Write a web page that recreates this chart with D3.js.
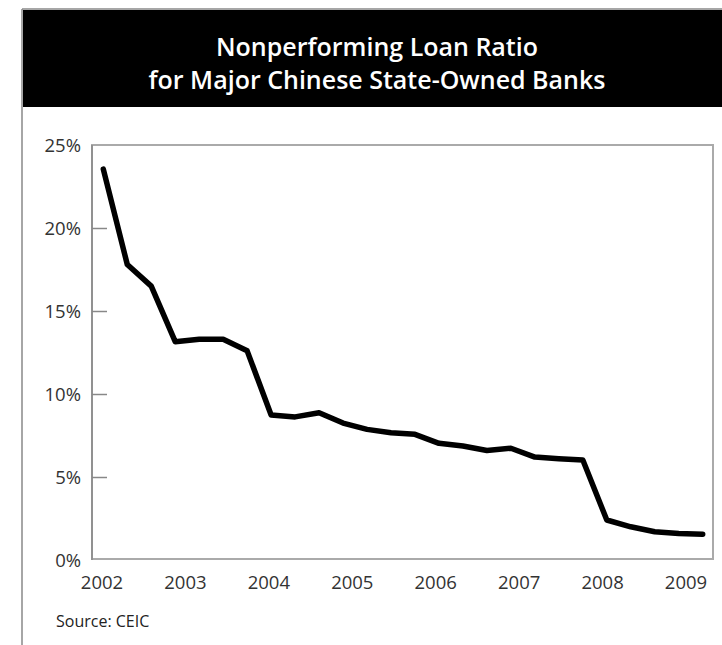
<!DOCTYPE html>
<html>
<head>
<meta charset="utf-8">
<script src="https://cdn.jsdelivr.net/npm/d3@7"></script>
<style>
  body { margin: 0; background: #fff; }
  svg { display: block; }
  text { font-family: "Open Sans", "Noto Sans", sans-serif; }
</style>
</head>
<body>
<div id="chart"></div>
<script>
// NPL ratio readings, evenly spaced periods
const nplRatio = [23.55, 17.8, 16.5, 13.15, 13.3, 13.3, 12.6, 8.73, 8.62, 8.87,
  8.25, 7.87, 7.67, 7.57, 7.03, 6.87, 6.6, 6.73, 6.2, 6.1,
  6.02, 2.41, 2.0, 1.7, 1.6, 1.55];
const yearLabels = [2002, 2003, 2004, 2005, 2006, 2007, 2008, 2009];
const yTicks = [0, 5, 10, 15, 20, 25];
const titleLines = ['Nonperforming Loan Ratio', 'for Major Chinese State-Owned Banks'];
const sourceNote = 'Source: CEIC';

const width = 722, height = 645;
const plot = { left: 92, right: 713, top: 145, bottom: 560 };

const svg = d3.select('#chart').append('svg')
  .attr('width', width)
  .attr('height', height);

// outer frame + header band
svg.append('line')
  .attr('x1', 22).attr('x2', 22).attr('y1', 9).attr('y2', height)
  .attr('stroke', '#888').attr('stroke-width', 1.5);
svg.append('line')
  .attr('x1', 22).attr('x2', width).attr('y1', 9).attr('y2', 9)
  .attr('stroke', '#888').attr('stroke-width', 1.5);
svg.append('rect')
  .attr('x', 23).attr('y', 10).attr('width', width - 23).attr('height', 97)
  .attr('fill', '#000');

svg.selectAll('.title')
  .data(titleLines)
  .enter().append('text')
  .attr('class', 'title')
  .attr('x', 377)
  .attr('y', (d, i) => 56 + i * 33)
  .attr('text-anchor', 'middle')
  .attr('fill', '#fff')
  .attr('font-size', 25)
  .attr('font-weight', 600)
  .text(d => d);

const y = d3.scaleLinear().domain([0, 25]).range([plot.bottom, plot.top]);
const xIdx = d3.scaleLinear().domain([0, nplRatio.length - 1]).range([103.3, 702.7]);
const xYear = d3.scaleLinear().domain([2002, 2009]).range([102, 686]);

// plot frame
svg.append('rect')
  .attr('x', plot.left).attr('y', plot.top)
  .attr('width', plot.right - plot.left).attr('height', plot.bottom - plot.top - 1)
  .attr('fill', 'none').attr('stroke', '#aaa').attr('stroke-width', 2);

// y axis with inward ticks
const yAxis = svg.append('g')
  .attr('transform', `translate(${plot.left},0)`)
  .call(d3.axisRight(y).tickValues(yTicks).tickSize(15).tickFormat(''));
yAxis.select('.domain').remove();
yAxis.selectAll('.tick line').attr('stroke', '#888').attr('stroke-width', 1.5);
yAxis.selectAll('.tick').filter(d => d === 0 || d === 25).select('line').remove();

svg.append('line')
  .attr('x1', plot.left).attr('x2', plot.left).attr('y1', plot.top).attr('y2', plot.bottom)
  .attr('stroke', '#888').attr('stroke-width', 1.5);

svg.selectAll('.ylab')
  .data(yTicks)
  .enter().append('text')
  .attr('class', 'ylab')
  .attr('x', 81)
  .attr('y', d => y(d) + 7)
  .attr('text-anchor', 'end')
  .attr('fill', '#333')
  .attr('font-size', 18.5)
  .text(d => d + '%');

svg.selectAll('.xlab')
  .data(yearLabels)
  .enter().append('text')
  .attr('class', 'xlab')
  .attr('x', d => xYear(d))
  .attr('y', 589)
  .attr('text-anchor', 'middle')
  .attr('fill', '#333')
  .attr('font-size', 18.5)
  .text(d => d);

const line = d3.line()
  .x((d, i) => xIdx(i))
  .y(d => y(d));

svg.append('path')
  .datum(nplRatio)
  .attr('d', line)
  .attr('fill', 'none')
  .attr('stroke', '#000')
  .attr('stroke-width', 5.5)
  .attr('stroke-linejoin', 'round')
  .attr('stroke-linecap', 'round');

svg.append('text')
  .attr('x', 56)
  .attr('y', 627)
  .attr('fill', '#222')
  .attr('font-size', 16)
  .text(sourceNote);
</script>
</body>
</html>
